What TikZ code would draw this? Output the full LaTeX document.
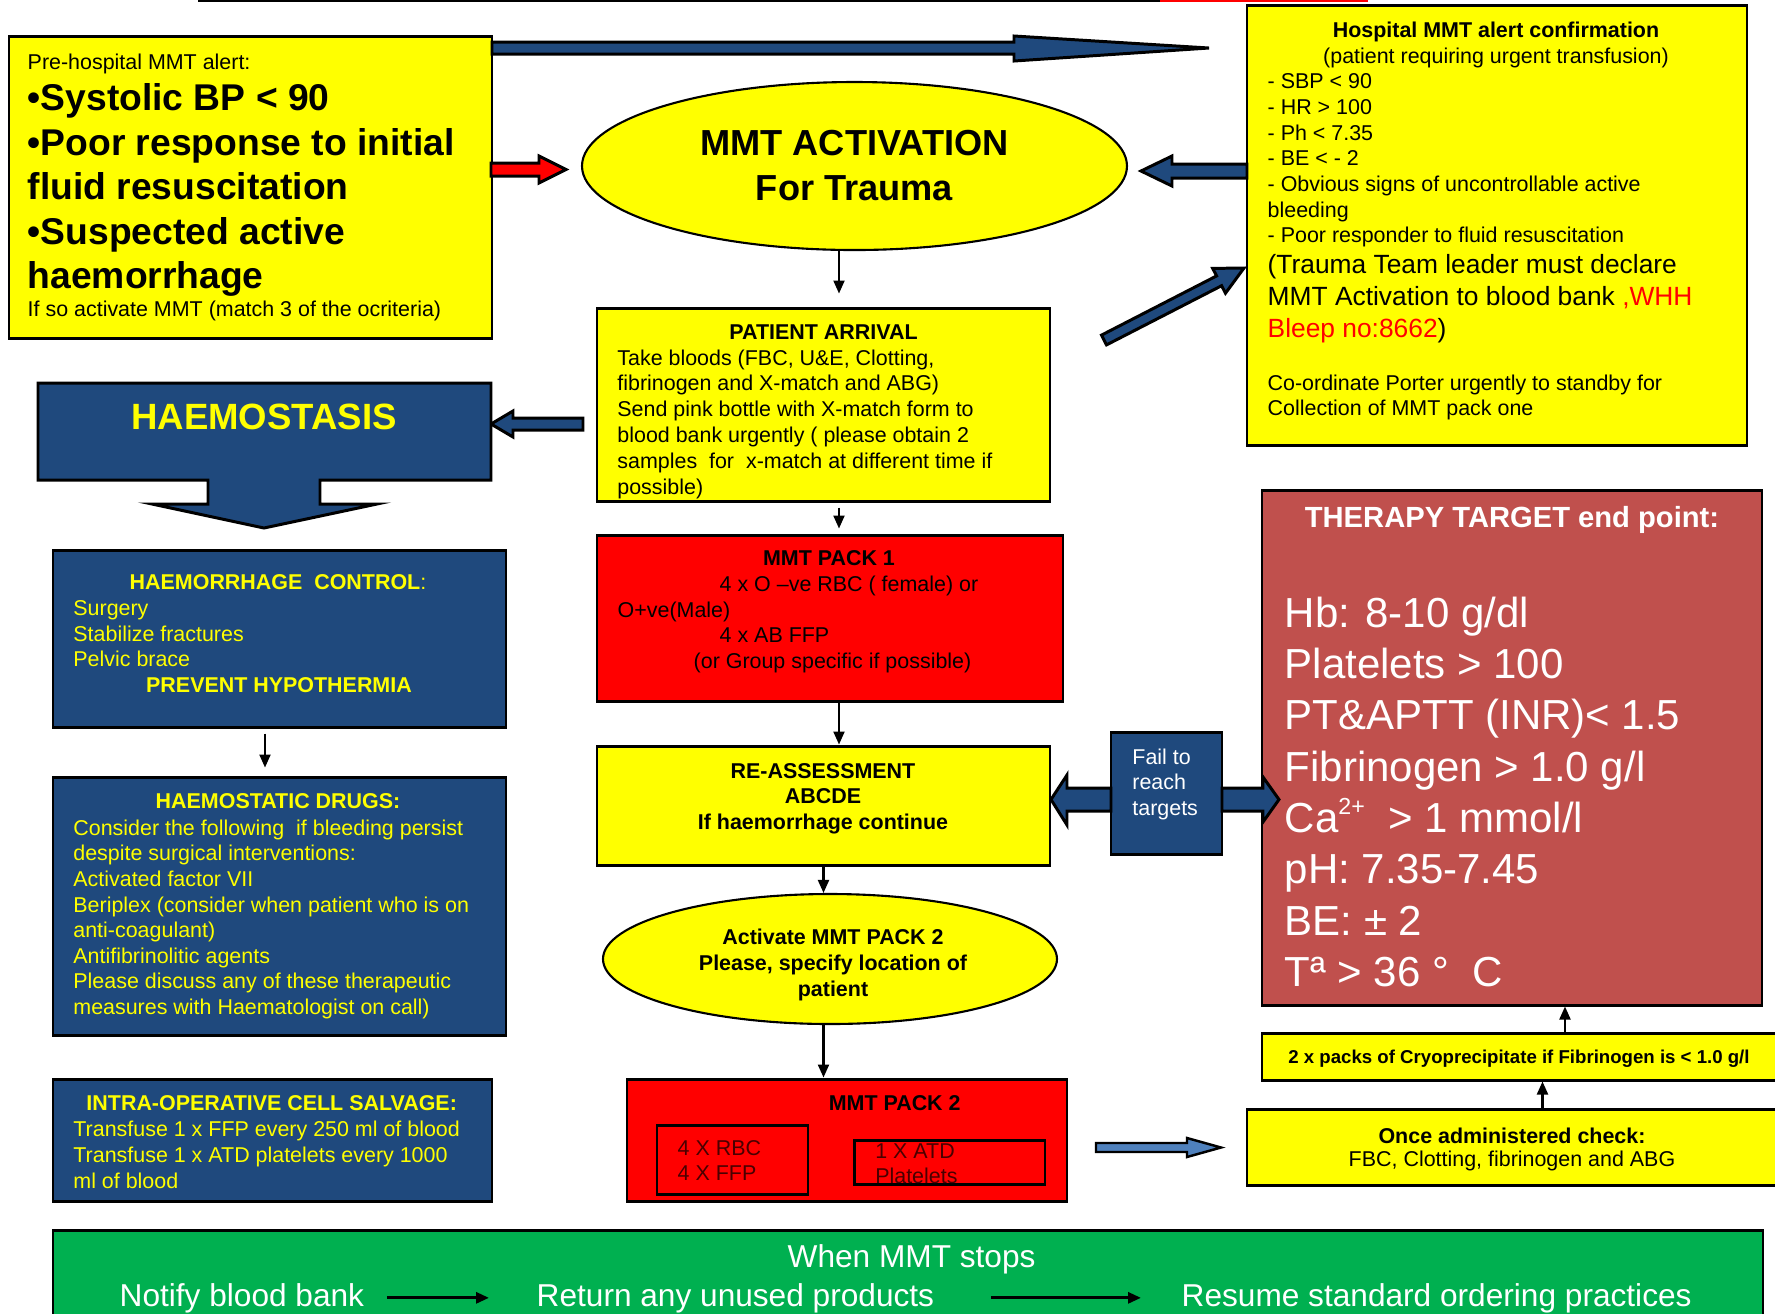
\documentclass[tikz,border=0pt]{standalone}
\usepackage{fontspec}
\setmainfont{Liberation Sans}
\usepackage{xcolor}
\usetikzlibrary{arrows.meta,shapes.geometric,fit}
\definecolor{mmtyellow}{HTML}{FFFF00}
\definecolor{mmtblue}{HTML}{1F497D}
\definecolor{mmtred}{HTML}{FF0000}
\definecolor{mmtrose}{HTML}{C0504D}
\definecolor{mmtgreen}{HTML}{00B050}
\definecolor{mmtsky}{HTML}{4F81BD}
\definecolor{mmtdark}{HTML}{4A0000}
\newcommand{\fsz}[2]{\fontsize{#1}{#2}\selectfont}

\begin{document}
\begin{tikzpicture}[x=0.1mm,y=-0.1mm,
box/.style={draw=black,line width=0.85pt,inner sep=0pt},
ybox/.style={box,fill=mmtyellow},
bbox/.style={box,fill=mmtblue},
rbox/.style={box,fill=mmtred},
txt/.style={inner sep=0pt,align=left,font=\fsz{6.1}{7.3}},
conn/.style={-{Triangle[length=1.3mm,width=1.1mm]},line width=0.6pt},
fat/.style={draw=black,line width=0.85pt,line join=miter,fill=mmtblue}]
\useasboundingbox (0,0) rectangle (1775,1314);
\draw[line width=0.6pt](198,1)--(1160,1);
\draw[line width=0.6pt,mmtred](1160,1)--(1368,1);

\node[ybox,fit={(9,36) (492,338)}](pre){};
\node[txt,anchor=north west](prehead)at(27,52.8){Pre-hospital MMT alert:};
\node[txt,anchor=north west,font=\bfseries\fsz{10.6}{12.66}](prelist)at(27,82.9){•Systolic BP < 90\\•Poor response to initial\\fluid resuscitation\\•Suspected active\\haemorrhage};
\node[txt,anchor=north west](prefoot)at(27,300.1){If so activate MMT (match 3 of the ocriteria)};

\node[ybox,fit={(1247,5) (1747,445)}](hosp){};
\node[txt,anchor=north,align=center,font=\fsz{6.1}{7.35}](hostitle)at(1496,21.4){\textbf{Hospital MMT alert confirmation}\\(patient requiring urgent transfusion)};
\node[txt,anchor=north west,font=\fsz{6.1}{7.3}](hoslist)at(1267,73.1){- SBP < 90\\- HR > 100\\- Ph < 7.35\\- BE < - 2\\- Obvious signs of uncontrollable active\\bleeding\\- Poor responder to fluid resuscitation};
\node[txt,anchor=north west,font=\fsz{7.5}{9.2}](hosbank)at(1267,253.2){(Trauma Team leader must declare\\MMT Activation to blood bank {\color{mmtred},WHH}\\{\color{mmtred}Bleep no:8662})};
\node[txt,anchor=north west,font=\fsz{6.1}{7.15}](hosporter)at(1267,373.8){Co-ordinate Porter urgently to standby for\\Collection of MMT pack one};

\draw[fat](492,42)--(1014,42)--(1014,36)--(1209,48)--(1014,61)--(1014,54)--(492,54)--cycle;
\draw[fat,fill=mmtred](491,163)--(539,163)--(539,156)--(566,169.5)--(539,183)--(539,176)--(491,176)--cycle;
\draw[fat](1247,164)--(1172,164)--(1172,156)--(1141,171)--(1172,186)--(1172,178)--(1247,178)--cycle;
\draw[fat](1101.5,335.1)--(1216.6,275.9)--(1212.7,268.4)--(1244,268)--(1225.5,293.2)--(1221.6,285.7)--(1106.5,344.9)--cycle;

\node[ellipse,draw,line width=0.6pt,fill=mmtyellow,minimum width=54.5mm,minimum height=16.8mm,inner sep=0pt,align=center,font=\bfseries\fsz{10.3}{12.8}](act)at(854.5,166){MMT ACTIVATION\\For Trauma};

\node[ybox,fit={(597,308) (1050,501)}](arr){};
\node[txt,anchor=north,font=\bfseries\fsz{6.1}{7.3}](arrtitle)at(823.5,323.8){PATIENT ARRIVAL};
\node[txt,anchor=north west,font=\fsz{6.1}{7.35}](arrbody)at(616.7,348.8){Take bloods (FBC, U\&E, Clotting,\\fibrinogen and X-match and ABG)\\Send pink bottle with X-match form to\\blood bank urgently ( please obtain 2\\samples\ \ for\ \ x-match at different time if\\possible)};

\draw[fat](583,418)--(513,418)--(513,411)--(491,424)--(513,437)--(513,430)--(583,430)--cycle;
\draw[fat](38,383)--(491,383)--(491,480)--(320,480)--(320,504)--(377,504)--(264,528)--(152,504)--(208,504)--(208,480)--(38,480)--cycle;
\node[txt,anchor=base,text=mmtyellow,font=\bfseries\fsz{10.4}{12}](haemo)at(264,429.8){HAEMOSTASIS};

\node[rbox,fit={(597,535) (1063,701)}](pk1){};
\node[txt,anchor=north,font=\bfseries\fsz{6.1}{7.3}](pk1title)at(829,550){MMT PACK 1};
\node[txt,anchor=north west,font=\fsz{6.1}{7.3}](pk1body)at(617,575.1){\hspace*{10.2mm}4 x O –ve RBC ( female) or\\O+ve(Male)\\\hspace*{10.2mm}4 x AB FFP\\\hspace*{7.6mm}(or Group specific if possible)};

\node[ybox,fit={(597,746) (1050,865)}](reass){};
\node[txt,anchor=north,align=center,font=\bfseries\fsz{6.1}{7.2}](reasstxt)at(823,763){RE-ASSESSMENT\\ABCDE\\If haemorrhage continue};

\node[ellipse,draw,line width=0.6pt,fill=mmtyellow,minimum width=45.4mm,minimum height=13mm,inner sep=0pt](pk2call)at(830,959){};
\node[txt,anchor=north,align=center,font=\bfseries\fsz{6.1}{7.35}](pk2calltxt)at(833,928.5){Activate MMT PACK 2\\Please, specify location of\\patient};

\node[rbox,fit={(627,1079) (1067,1201)}](pk2){};
\node[txt,anchor=north,font=\bfseries\fsz{6.1}{7.3}](pk2title)at(894.7,1094.8){MMT PACK 2};
\node[box,fit={(657,1125) (808,1194)}](rbcbox){};
\node[box,fit={(854.5,1140) (1045,1184)}](atdbox){};
\node[txt,anchor=north west,text=mmtdark,font=\fsz{6.1}{7.1}](rbctxt)at(677,1140){4 X RBC\\4 X FFP};
\node[txt,anchor=north west,text=mmtdark,font=\fsz{6.1}{7.1}](atdtxt)at(874.6,1142.8){1 X ATD\\Platelets};

\node[bbox,fit={(53,550) (506,727)}](hc){};
\node[txt,anchor=north,text=mmtyellow](hctitle)at(278,573.8){\textbf{HAEMORRHAGE\ \ CONTROL}:};
\node[txt,anchor=north west,text=mmtyellow,font=\fsz{6.1}{7.25}](hclist)at(72.7,600.1){Surgery\\Stabilize fractures\\Pelvic brace};
\node[txt,anchor=north,text=mmtyellow,font=\bfseries\fsz{6.1}{7.3}](hcprev)at(279,677.1){PREVENT HYPOTHERMIA};

\node[bbox,fit={(53,777) (506,1035)}](hd){};
\node[txt,anchor=north,text=mmtyellow,font=\bfseries\fsz{6.1}{7.3}](hdtitle)at(278,792.8){HAEMOSTATIC DRUGS:};
\node[txt,anchor=north west,text=mmtyellow,font=\fsz{6.1}{7.3}](hdbody)at(72.7,818.8){Consider the following\ \ if bleeding persist\\despite surgical interventions:\\Activated factor VII\\Beriplex (consider when patient who is on\\anti-coagulant)\\Antifibrinolitic agents\\Please discuss any of these therapeutic\\measures with Haematologist on call)};

\node[bbox,fit={(53,1079) (492,1201)}](ics){};
\node[txt,anchor=north,text=mmtyellow,font=\bfseries\fsz{6.1}{7.3}](icstitle)at(271.7,1094.8){INTRA-OPERATIVE CELL SALVAGE:};
\node[txt,anchor=north west,text=mmtyellow,font=\fsz{6.1}{7.4}](icsbody)at(72.7,1120.1){Transfuse 1 x FFP every 250 ml of blood\\Transfuse 1 x ATD platelets every 1000\\ml of blood};

\node[box,fill=mmtrose,fit={(1262,490) (1762,1005)}](target){};
\node[txt,anchor=north,text=white,font=\bfseries\fsz{8.3}{10}](targettitle)at(1512,505.9){THERAPY TARGET end point:};
\node[txt,anchor=north west,text=white,font=\fsz{11.95}{14.6}](targetbody)at(1284,596.2){Hb: 8-10 g/dl\\Platelets > 100\\PT\&APTT (INR)< 1.5\\Fibrinogen > 1.0 g/l\\Ca\raisebox{0.42em}{\fsz{6.6}{7}2+}\ \ > 1 mmol/l\\pH: 7.35-7.45\\BE: ± 2\\Tª > 36 °\ \ C};

\node[bbox,fit={(1111,732) (1222,854)}](fail){};
\node[txt,anchor=north west,text=white,font=\fsz{6.1}{7.25}](failtxt)at(1131.7,747.8){Fail to\\reach\\targets};
\draw[fat](1111,788)--(1067,788)--(1067,775)--(1051,799.5)--(1067,825)--(1067,811)--(1111,811)--cycle;
\draw[fat](1222,788)--(1263,788)--(1263,777)--(1279,799.5)--(1263,822)--(1263,811)--(1222,811)--cycle;

\node[ybox,fit={(1262,1033) (1785,1080)}](cryo){};
\node[txt,anchor=base,font=\bfseries\fsz{5.3}{6.4}](cryotxt)at(1519,1063.4){2 x packs of Cryoprecipitate if Fibrinogen is < 1.0 g/l};
\node[ybox,fit={(1247,1109) (1785,1185)}](once){};
\node[txt,anchor=north,align=center,font=\fsz{6.1}{6.55}](oncetxt)at(1512,1127.1){\textbf{Once administered check:}\\FBC, Clotting, fibrinogen and ABG};
\draw[fat,fill=mmtsky,line width=0.7pt](1096,1143)--(1187,1143)--(1187,1138)--(1221,1147.5)--(1187,1157)--(1187,1152)--(1096,1152)--cycle;

\draw[conn,shorten >=1.3mm]([xshift=-1.55mm]act.south)--([xshift=-1.55mm]act.south|-arr.north);
\draw[conn,shorten <=0.5mm,shorten >=0.5mm]([xshift=1.55mm]arr.south)--([xshift=1.55mm]arr.south|-pk1.north);
\draw[conn]([xshift=0.9mm]pk1.south)--([xshift=0.9mm]pk1.south|-reass.north);
\draw[conn](reass.south)--(reass.south|-pk2call.north);
\draw[conn](reass.south|-pk2call.south)--(reass.south|-pk2.north);
\draw[conn,shorten <=0.5mm,shorten >=0.8mm]([xshift=-1.45mm]hc.south)--([xshift=-1.45mm]hc.south|-hd.north);
\draw[conn]([xshift=2.65mm]once.north)--([xshift=2.65mm]once.north|-cryo.south);
\draw[conn]([xshift=4.15mm]cryo.north)--([xshift=4.15mm]cryo.north|-target.south);

\node[box,fill=mmtgreen,fit={(53,1230) (1763,1330)}](stop){};
\node[txt,anchor=base,text=white,font=\fsz{9}{11}](stoptitle)at(911.6,1267.5){When MMT stops};
\node[txt,anchor=base west,text=white,font=\fsz{9}{11}](notify)at(119,1306){Notify blood bank};
\node[txt,anchor=base west,text=white,font=\fsz{9}{11}](unused)at(536,1306){Return any unused products};
\node[txt,anchor=base west,text=white,font=\fsz{9}{11}](resume)at(1181,1306){Resume standard ordering practices};
\draw[conn,line width=0.85pt,shorten <=2.2mm,shorten >=4.7mm](notify.east)--(unused.west);
\draw[conn,line width=0.85pt,shorten <=5.6mm,shorten >=4mm](unused.east)--(resume.west);
\end{tikzpicture}
\end{document}
